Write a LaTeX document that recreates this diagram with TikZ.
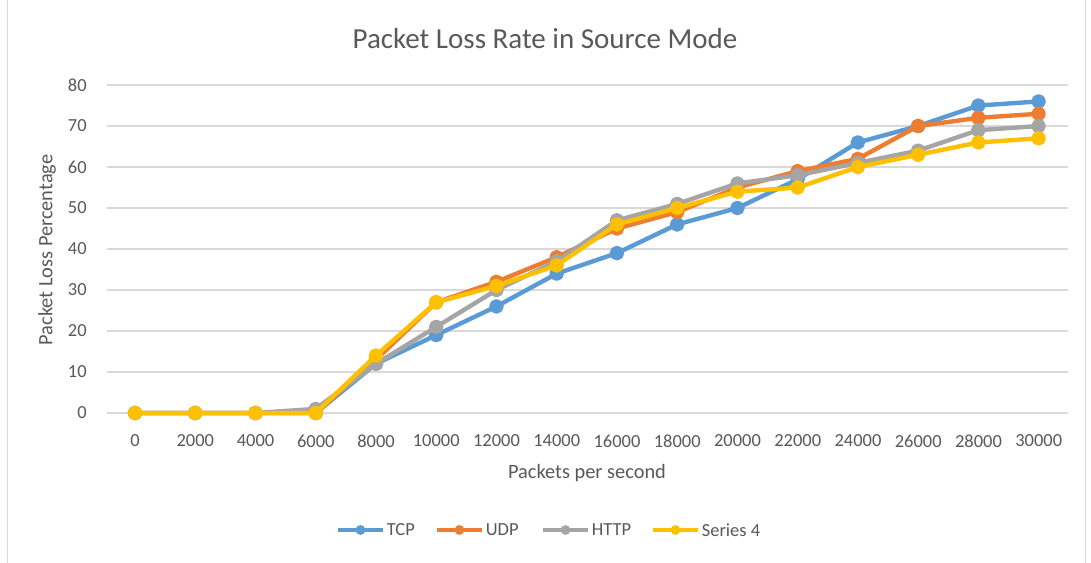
\documentclass[tikz,border=0pt]{standalone}
\usepackage{fontspec}
\setmainfont{Carlito}
\usetikzlibrary{positioning}

\definecolor{tcpblue}{HTML}{5B9BD5}
\definecolor{udporange}{HTML}{ED7D31}
\definecolor{httpgray}{HTML}{A5A5A5}
\definecolor{sfouryellow}{HTML}{FFC000}
\definecolor{gridgray}{HTML}{D9D9D9}
\definecolor{labelgray}{HTML}{595959}

\tikzset{
  gridline/.style={draw=gridgray, line width=0.6pt},
  ticklabel/.style={text=labelgray, inner sep=0pt, font=\fontsize{10.5}{12}\selectfont},
  axistitle/.style={text=labelgray, inner sep=0pt, font=\fontsize{11.6}{14}\selectfont},
  charttitle/.style={text=labelgray, inner sep=0pt, font=\fontsize{16.5}{20}\selectfont},
  series/.style={line width=2.5pt, line join=round, mark=*, mark size=2.9pt},
  legline/.style={line width=2.5pt},
  legdot/.style={circle, inner sep=0pt, minimum size=5.6pt},
  legtext/.style={text=labelgray, inner sep=0pt, font=\fontsize{10.5}{12}\selectfont}
}

\begin{document}
\begin{tikzpicture}[x=0.02cm,y=-0.02cm]
    \def\xo{135}
    \def\xs{60.25}
    \def\yo{413}
    \def\ys{4.1}
    \useasboundingbox (0,0) rectangle (1091,563);
    \fill[white] (0,0) rectangle (1091,563);
    % chart frame
    \draw[gridgray] (7,0) -- (7,563);
    \draw[gridgray] (1085,0) -- (1085,563);
    % title
    \node[charttitle] (title) at (545,39) {Packet Loss Rate in Source Mode};
    % grid lines and y labels
    \foreach \v in {0,10,...,80}{
      \draw[gridline] (107,\yo-\ys*\v) -- (1068,\yo-\ys*\v);
      \node[ticklabel, anchor=east] (ylab\v) at (87,\yo-\ys*\v) {\v};
    }
    % x labels
    \foreach \p [count=\i from 0] in {0,2000,4000,6000,8000,10000,12000,14000,
                                      16000,18000,20000,22000,24000,26000,28000,30000}
      \node[ticklabel] (xlab\i) at (\xo+\xs*\i,441) {\p};
    % axis titles
    \node[axistitle, rotate=90] (ytitle) at (47,250) {Packet Loss Percentage};
    \node[axistitle] (xtitle) at (587,473) {Packets per second};
    % the four series
    \begin{scope}[shift={(\xo,\yo)}, x=1.205cm, y=0.082cm]
      \draw[series, tcpblue] plot coordinates {(0,0) (1,0) (2,0) (3,0) (4,12) (5,19) (6,26) (7,34)
        (8,39) (9,46) (10,50) (11,57) (12,66) (13,70) (14,75) (15,76)};
      \draw[series, udporange] plot coordinates {(0,0) (1,0) (2,0) (3,0) (4,13) (5,27) (6,32) (7,38)
        (8,45) (9,49) (10,55) (11,59) (12,62) (13,70) (14,72) (15,73)};
      \draw[series, httpgray] plot coordinates {(0,0) (1,0) (2,0) (3,1) (4,12) (5,21) (6,30) (7,37)
        (8,47) (9,51) (10,56) (11,58) (12,61) (13,64) (14,69) (15,70)};
      \draw[series, sfouryellow] plot coordinates {(0,0) (1,0) (2,0) (3,0) (4,14) (5,27) (6,31) (7,36)
        (8,46) (9,50) (10,54) (11,55) (12,60) (13,63) (14,66) (15,67)};
    \end{scope}
    % legend
    \foreach \name/\col/\xa/\lab in {tcp/tcpblue/338/TCP, udp/udporange/437/UDP,
                                     http/httpgray/543/HTTP, sfour/sfouryellow/653/Series 4}{
      \coordinate (\name L) at (\xa,530);
      \coordinate (\name R) at (\xa+45,530);
      \draw[legline, \col] (\name L) -- node[legdot, fill=\col] (\name M) {} (\name R);
      \node[legtext, right=2pt of \name R] (\name T) {\lab};
    }
\end{tikzpicture}
\end{document}
